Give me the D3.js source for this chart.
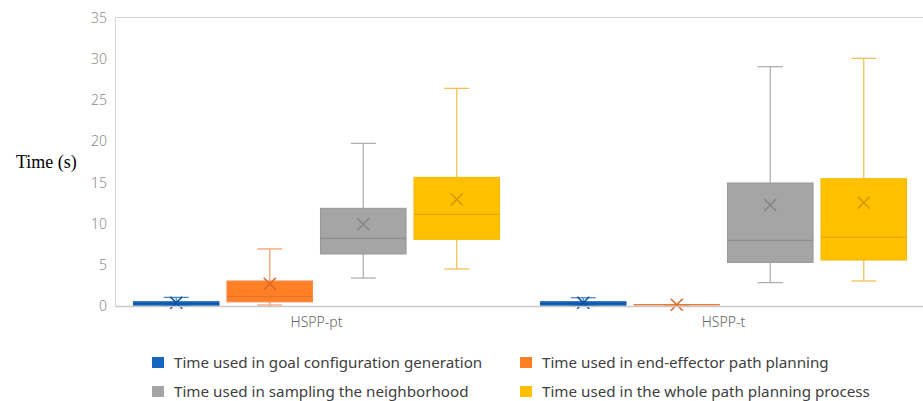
<!DOCTYPE html>
<html>
<head>
<meta charset="utf-8">
<script src="https://cdn.jsdelivr.net/npm/d3@7"></script>
<style>
  html, body { margin: 0; padding: 0; background: #fff; }
  svg { display: block; }
</style>
</head>
<body>
<svg id="chart" width="923" height="401"></svg>
<script>
// Categories and series
const categories = ["HSPP-pt", "HSPP-t"];
const seriesNames = [
  "Time used in goal configuration generation",
  "Time used in end-effector path planning",
  "Time used in sampling the neighborhood",
  "Time used in the whole path planning process"
];
const yTicks = [0, 5, 10, 15, 20, 25, 30, 35];

// Box statistics per series, one value per category
const goalMin = [0.08, 0.08], goalQ1 = [0.09, 0.09], goalMedian = [0.3, 0.3], goalQ3 = [0.52, 0.52], goalMax = [1.05, 1.0], goalMean = [0.4, 0.4];
const endMin = [0.12, 0.14], endQ1 = [0.5, 0.145], endMedian = [1.13, 0.15], endQ3 = [3.04, 0.155], endMax = [6.93, 0.16], endMean = [2.7, 0.15];
const sampMin = [3.4, 2.84], sampQ1 = [6.32, 5.3], sampMedian = [8.22, 7.98], sampQ3 = [11.87, 14.95], sampMax = [19.77, 29.08], sampMean = [9.93, 12.27];
const wholeMin = [4.5, 3.04], wholeQ1 = [8.1, 5.59], wholeMedian = [11.14, 8.35], wholeQ3 = [15.63, 15.47], wholeMax = [26.45, 30.1], wholeMean = [12.96, 12.56];

const styles = [
  { fill: "#1565c0", stroke: "#1a62b4", whisker: "#3f7fc8", median: "#0e56a6", mean: "#0d4f9a" },
  { fill: "#ff7f27", stroke: "#f48a4a", whisker: "#f39a63", median: "#e8712a", mean: "#d9692a" },
  { fill: "#a5a5a5", stroke: "#979797", whisker: "#ababab", median: "#8e8e8e", mean: "#858585" },
  { fill: "#ffc000", stroke: "#f3b800", whisker: "#f1bd4a", median: "#e3a800", mean: "#d49c00" }
];

const stats = [
  [goalMin, goalQ1, goalMedian, goalQ3, goalMax, goalMean],
  [endMin, endQ1, endMedian, endQ3, endMax, endMean],
  [sampMin, sampQ1, sampMedian, sampQ3, sampMax, sampMean],
  [wholeMin, wholeQ1, wholeMedian, wholeQ3, wholeMax, wholeMean]
];

const boxes = [];
categories.forEach((c, ci) => {
  seriesNames.forEach((s, si) => {
    const [mn, q1, md, q3, mx, me] = stats[si];
    boxes.push({ cat: c, si, min: mn[ci], q1: q1[ci], median: md[ci], q3: q3[ci], max: mx[ci], mean: me[ci] });
  });
});

const svg = d3.select("#chart");
const plotLeft = 115.5, plotTop = 17.5, plotBottom = 306.5;

const y = d3.scaleLinear().domain([0, 35]).range([306, 18]);
const x0 = d3.scaleBand().domain(categories).range([113, 927]);
const inner = 16.7;
const x1 = d3.scaleBand().domain(d3.range(seriesNames.length))
  .range([inner, x0.bandwidth() - inner]).paddingInner(0.085).paddingOuter(0.04);

// Frame
svg.append("line").attr("x1", plotLeft).attr("x2", 923).attr("y1", plotTop).attr("y2", plotTop)
  .attr("stroke", "#d4d4d4").attr("stroke-width", 1);
svg.append("line").attr("x1", plotLeft).attr("x2", plotLeft).attr("y1", plotTop).attr("y2", plotBottom)
  .attr("stroke", "#d4d4d4").attr("stroke-width", 1);

// Y axis labels
const yAxis = d3.axisLeft(y).tickValues(yTicks).tickSize(0).tickPadding(0);
const gy = svg.append("g").attr("transform", "translate(107,0)").call(yAxis);
gy.select(".domain").remove();
gy.selectAll("text").attr("font-family", "'Noto Sans', sans-serif").attr("font-size", 14)
  .attr("fill", "#8c8c8c").attr("font-weight", 300);

// Y title
svg.append("text").attr("x", 16).attr("y", 168).text("Time (s)")
  .attr("font-family", "'Liberation Serif', 'Times New Roman', serif").attr("font-size", 18).attr("fill", "#000");

// Boxes
const g = svg.append("g");
const bw = x1.bandwidth();
const capW = 25;
boxes.forEach(b => {
  const st = styles[b.si];
  const left = x0(b.cat) + x1(b.si);
  const cx = left + bw / 2;
  const gg = g.append("g");
  // whiskers
  gg.append("line").attr("x1", cx).attr("x2", cx).attr("y1", y(b.max)).attr("y2", y(b.q3)).attr("stroke", st.whisker).attr("stroke-width", 1.2);
  gg.append("line").attr("x1", cx).attr("x2", cx).attr("y1", y(b.q1)).attr("y2", y(b.min)).attr("stroke", st.whisker).attr("stroke-width", 1.2);
  gg.append("line").attr("x1", cx - capW / 2).attr("x2", cx + capW / 2).attr("y1", y(b.max)).attr("y2", y(b.max)).attr("stroke", st.whisker).attr("stroke-width", 1.2);
  gg.append("line").attr("x1", cx - capW / 2).attr("x2", cx + capW / 2).attr("y1", y(b.min)).attr("y2", y(b.min)).attr("stroke", st.whisker).attr("stroke-width", 1.2);
  // box
  gg.append("rect").attr("x", left).attr("width", bw)
    .attr("y", y(b.q3)).attr("height", Math.max(0, y(b.q1) - y(b.q3)))
    .attr("fill", st.fill).attr("stroke", st.stroke).attr("stroke-width", 1);
  // median
  gg.append("line").attr("x1", left).attr("x2", left + bw).attr("y1", y(b.median)).attr("y2", y(b.median))
    .attr("stroke", st.median).attr("stroke-width", 1.2);
  // mean marker
  const ym = y(b.mean), r = 6;
  gg.append("path").attr("d", `M${cx - r},${ym - r}L${cx + r},${ym + r}M${cx - r},${ym + r}L${cx + r},${ym - r}`)
    .attr("stroke", st.mean).attr("stroke-width", 1.6).attr("fill", "none");
});

// X axis baseline and category labels
svg.append("line").attr("x1", plotLeft).attr("x2", 923).attr("y1", plotBottom).attr("y2", plotBottom)
  .attr("stroke", "#c8c8c8").attr("stroke-width", 1.3);
const xAxis = d3.axisBottom(x0).tickSize(0).tickPadding(0);
const gx = svg.append("g").attr("transform", "translate(0,317)").call(xAxis);
gx.select(".domain").remove();
gx.selectAll("text").attr("font-family", "'Noto Sans', sans-serif").attr("font-size", 14)
  .attr("fill", "#666").attr("font-weight", 300);

// Legend
const legendPos = [[152, 362], [520, 362], [152, 391], [520, 391]];
seriesNames.forEach((name, i) => {
  const [lx, ly] = legendPos[i];
  svg.append("rect").attr("x", lx).attr("y", ly - 5).attr("width", 12).attr("height", 11).attr("fill", styles[i].fill);
  svg.append("text").attr("x", lx + 22).attr("y", ly + 6).text(name)
    .attr("font-family", "'Noto Sans', sans-serif").attr("font-size", 15.2).attr("fill", "#404040");
});
</script>
</body>
</html>
